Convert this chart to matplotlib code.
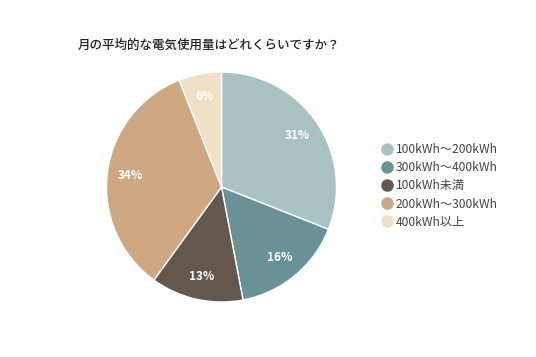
import numpy as np
import matplotlib.pyplot as plt
from matplotlib.lines import Line2D

plt.rcParams['font.family'] = ['Noto Sans CJK JP', 'DejaVu Sans']

# data (clockwise from top)
labels = ['100kWh～200kWh', '300kWh～400kWh', '100kWh未満', '200kWh～300kWh', '400kWh以上']
shares = [31, 16, 13, 34, 6]
colors = ['#a9c3c4', '#6a9196', '#63574e', '#cfa883', '#f0e1c6']

fig = plt.figure(figsize=(5.36, 3.57), dpi=100)
fig.patch.set_facecolor('white')

# pie centered around (221, 187) px with radius ~115 px
ax = fig.add_axes([(221.5 - 115) / 536, (357 - 187 - 115) / 357, 230 / 536, 230 / 357])
wedges, texts = ax.pie(shares, colors=colors, startangle=90, counterclock=False,
                       wedgeprops=dict(edgecolor='white', linewidth=1))
for w, s in zip(wedges, shares):
    ang = np.deg2rad((w.theta1 + w.theta2) / 2)
    ax.text(0.8 * np.cos(ang), 0.8 * np.sin(ang), f'{s}%', ha='center', va='center',
            color='white', fontsize=8.5, fontweight='bold')
ax.set_xlim(-1, 1)
ax.set_ylim(-1, 1)
ax.set_aspect('equal')

fig.text(78 / 536, 1 - 45 / 357, '月の平均的な電気使用量はどれくらいですか？',
         fontsize=9, color='#222222', ha='left', va='center', fontweight='medium')

handles = [Line2D([], [], marker='o', linestyle='', markersize=8, markerfacecolor=c,
                  markeredgecolor=c) for c in colors]
fig.legend(handles, labels, loc='center left', bbox_to_anchor=(370 / 536, 1 - 186 / 357),
           frameon=False, fontsize=8.7, labelcolor='#444444', handletextpad=0.25,
           labelspacing=0.42, handlelength=1.0)

fig.savefig('out.png', dpi=100)
